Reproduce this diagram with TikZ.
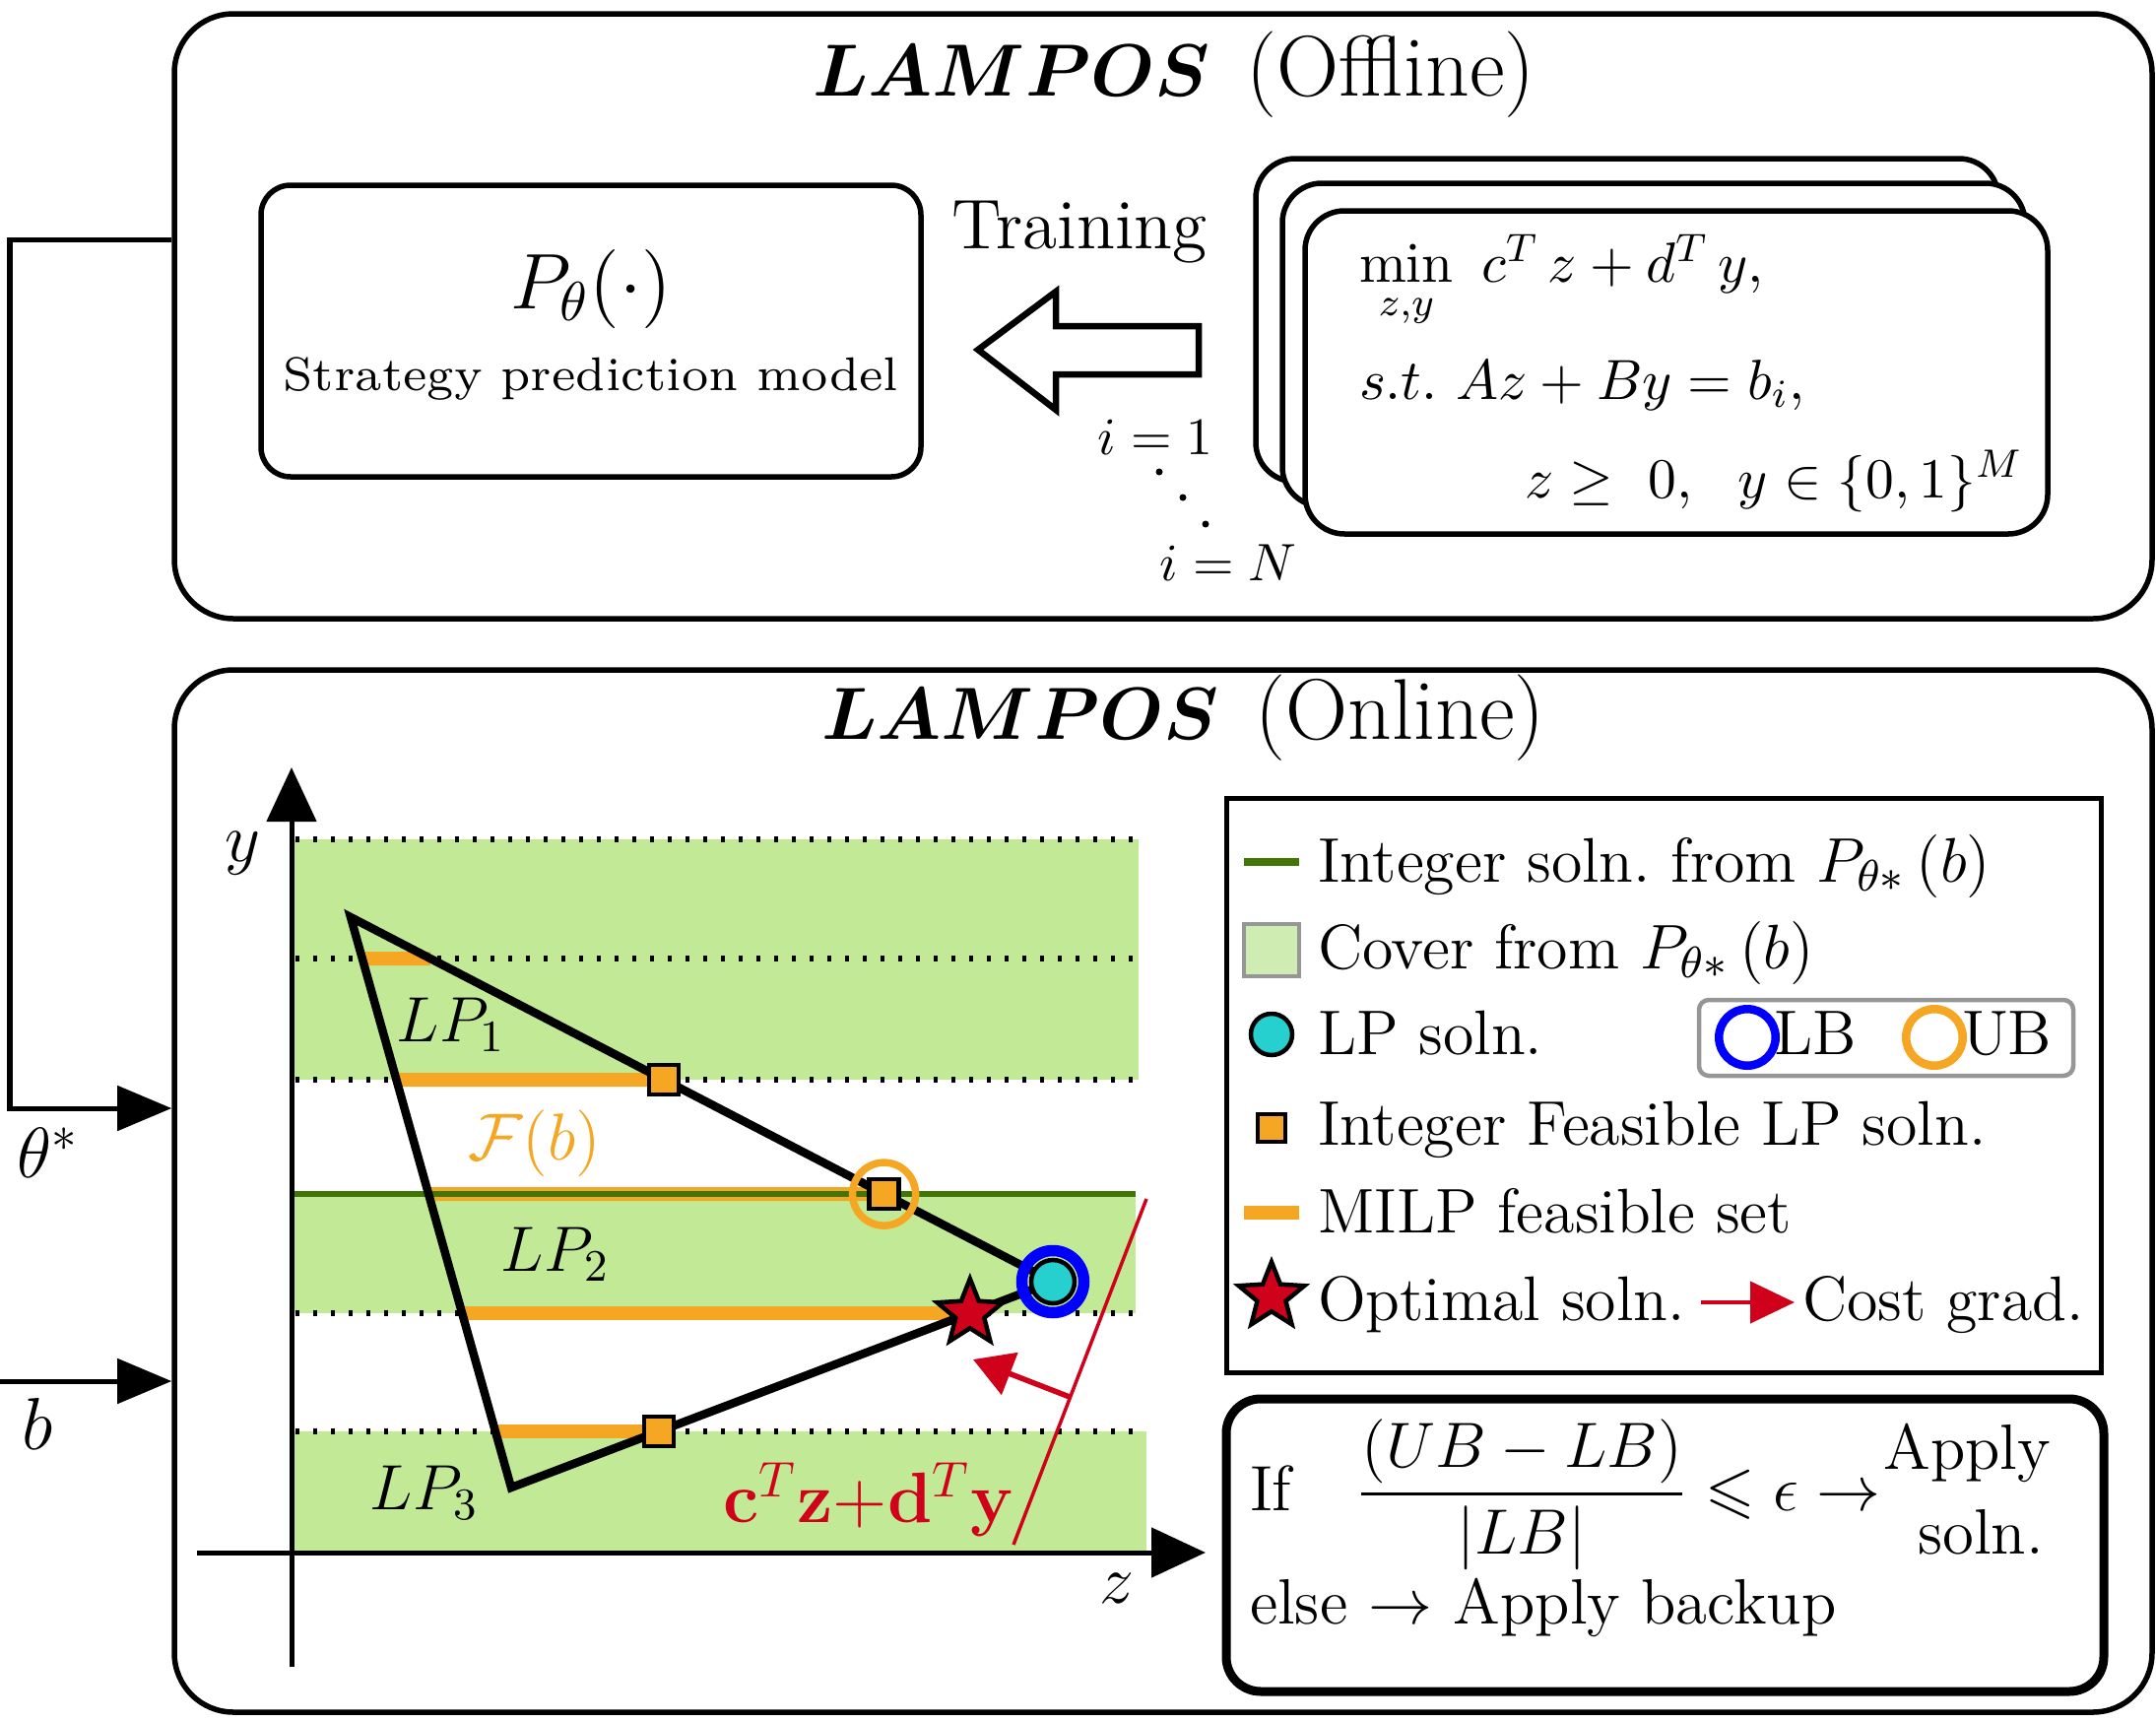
\RequirePackage{fix-cm}
\documentclass[tikz,border=0pt]{standalone}
\usepackage{amsmath,amssymb}
\usepackage{graphicx}
\usetikzlibrary{arrows.meta,shapes.geometric,fit,calc}
\definecolor{bandgreen}{RGB}{194,234,150}
\definecolor{covergreen}{RGB}{207,237,178}
\definecolor{intgreen}{RGB}{65,117,5}
\definecolor{feasorange}{RGB}{245,166,35}
\definecolor{lpcyan}{RGB}{38,208,206}
\definecolor{costred}{RGB}{208,2,27}
\definecolor{lbblue}{RGB}{0,0,255}
\definecolor{framegray}{RGB}{150,150,150}
\newcommand{\fsz}[1]{\fontsize{#1}{#1}\selectfont}
\begin{document}
\begin{tikzpicture}[x=0.2pt,y=-0.2pt,
  panel/.style={draw, line width=1.1pt, rounded corners=12pt, inner sep=0pt},
  stackbox/.style={draw, fill=white, line width=1.1pt, rounded corners=8pt, inner sep=0pt},
  dotline/.style={line width=1.3pt, dash pattern=on 0.8pt off 2.8pt},
  feasbar/.style={feasorange, line width=2.8pt},
  intline/.style={intgreen, line width=1.1pt},
  ifsq/.style={rectangle, draw=black, fill=feasorange, line width=0.9pt, minimum size=6pt, inner sep=0pt},
  optstar/.style={star, star points=5, star point ratio=2.3, draw=black, fill=costred, line width=0.9pt, minimum size=14pt, inner sep=0pt},
  lpdot/.style={circle, draw=black, fill=lpcyan, line width=0.9pt, minimum size=8.8pt, inner sep=0pt},
  ring/.style={circle, draw=#1, line width=1.7pt, minimum size=11.5pt, inner sep=0pt},
  axisarrow/.style={line width=1pt, -{Triangle[length=11pt,width=10pt]}},
  inarrow/.style={line width=1pt, -{Triangle[length=11pt,width=9pt]}},
  lbl/.style={inner sep=0pt},
  lgtext/.style={inner sep=0pt, anchor=base west, font=\fsz{12.8}},
]
\useasboundingbox (0,0) rectangle (2189,1748);

% ---------------- Offline panel ----------------
\node[panel, fit={(177,14)(2185,628)}] (offline) {};
\node[lbl, anchor=base west] (offT) at (824,97) {\fsz{15}$\boldsymbol{LAMPOS}$\hspace{0.5em}{\fsz{17.5}(Offline)}};

\node[panel, rounded corners=6pt, fit={(265,188)(935,484)}] (pbox) {};
\node[lbl] (ptheta) at (600,293) {\fsz{16}$P_\theta(\cdot)$};
\node[lbl] (pdesc) at (600,385) {\resizebox{125pt}{!}{\fsz{7}Strategy prediction model}};

\node[lbl] (train) at (1096,236) {\fsz{14.3}Training};
\draw[line width=1.3pt, line join=miter, fill=white]
  (993,355) -- (1072,296) -- (1072,331) -- (1217,331) -- (1217,380) -- (1072,380) -- (1072,416) -- cycle;

\node[lbl] (i1) at (1173,444) {\fsz{10.7}$i=1$};
\node[circle, fill, inner sep=0pt, minimum size=1.4pt] (dot1) at (1177,479) {};
\node[circle, fill, inner sep=0pt, minimum size=1.4pt] (dot2) at (1201,505) {};
\node[circle, fill, inner sep=0pt, minimum size=1.4pt] (dot3) at (1224,532) {};
\node[lbl] (iN) at (1247,571) {\fsz{10.7}$i=N$};

\node[stackbox, fit={(1275,161)(2029,489)}] (stk3) {};
\node[stackbox, fit={(1302,186)(2056,514)}] (stk2) {};
\node[stackbox, fit={(1325,214)(2079,542)}] (stk1) {};
\node[lbl, anchor=base west] (ob1) at (1379,286) {\fsz{11.5}$\min\limits_{z,y}\ c^T\, z + d^T\, y,$};
\node[lbl, anchor=base west] (ob2) at (1379,405) {\fsz{11.5}$s.t.\ Az + By = b_i,$};
\node[lbl, anchor=base east] (ob3) at (2055,505) {\fsz{11.5}$z \geq\ 0,\ \ y\in\{0,1\}^M$};

% ---------------- Online panel ----------------
\node[panel, fit={(177,680)(2185,1738)}] (online) {};
\node[lbl, anchor=base west] (onT) at (833,750) {\fsz{15}$\boldsymbol{LAMPOS}$\hspace{0.5em}{\fsz{17.5}(Online)}};

% bands
\fill[bandgreen] (296,852) rectangle (1156,1096);
\fill[bandgreen] (296,1212) rectangle (1153,1333);
\fill[bandgreen] (296,1453) rectangle (1164,1576);
\draw[dotline] (300,852) -- (1156,852);
\draw[dotline] (300,973) -- (1156,973);
\draw[dotline] (300,1096) -- (1156,1096);
\draw[dotline] (300,1333) -- (1156,1333);
\draw[dotline] (300,1453) -- (1156,1453);

% triangle
\coordinate (A) at (356,931);
\coordinate (R) at (1069,1301);
\coordinate (Bm) at (519,1510);
\coordinate (hla) at (0,973);  \coordinate (hra) at (2000,973);
\coordinate (hlb) at (0,1096); \coordinate (hrb) at (2000,1096);
\coordinate (hlc) at (0,1212); \coordinate (hrc) at (2000,1212);
\coordinate (hld) at (0,1333); \coordinate (hrd) at (2000,1333);
\coordinate (hle) at (0,1453); \coordinate (hre) at (2000,1453);
\coordinate (La) at (intersection of A--Bm and hla--hra);
\coordinate (Lb) at (intersection of A--Bm and hlb--hrb);
\coordinate (Lc) at (intersection of A--Bm and hlc--hrc);
\coordinate (Ld) at (intersection of A--Bm and hld--hrd);
\coordinate (Le) at (intersection of A--Bm and hle--hre);
\coordinate (Ra) at (intersection of A--R and hla--hra);
\coordinate (Rb) at (intersection of A--R and hlb--hrb);
\coordinate (Rc) at (intersection of A--R and hlc--hrc);
\coordinate (Rd) at (intersection of Bm--R and hld--hrd);
\coordinate (Re) at (intersection of Bm--R and hle--hre);

\draw[feasbar] (La) -- (Ra);
\draw[feasbar] (Lb) -- (Rb);
\draw[feasbar] (Lc) -- (Rc);
\draw[feasbar] (Ld) -- (Rd);
\draw[feasbar] (Le) -- (Re);
\draw[intline] (298,1212) -- (1153,1212);

% axes
\coordinate (yb) at (296,1692); \coordinate (yt) at (296,779);
\coordinate (zl) at (200,1576); \coordinate (zr) at (1224,1576);
\draw[axisarrow] (yb) -- (yt);
\draw[axisarrow] (zl) -- (zr);
\node[lbl] (ylbl) at (246,866) {\fsz{14}$y$};
\node[lbl] (zlbl) at (1134,1612) {\fsz{14}$z$};

% cost line
\coordinate (cl1) at (1029,1568); \coordinate (cl2) at (1164,1217);
\draw[costred, line width=0.7pt] (cl1) -- (cl2);
\coordinate (ga) at (1086,1418); \coordinate (gb) at (988,1380);
\draw[costred, line width=1.1pt, -{Triangle[length=8pt,width=9pt]}] (ga) -- (gb);
\node[lbl, text=costred] (costlbl) at (882,1522) {\fsz{14.5}$\mathbf{c}^T\mathbf{z}{+}\mathbf{d}^T\mathbf{y}$};

\draw[line width=1.7pt, line join=miter] (A) -- (R) -- (Bm) -- cycle;

\node[lbl] (lp1) at (458,1040) {\fsz{13}$LP_1$};
\node[lbl] (lp2) at (564,1273) {\fsz{13}$LP_2$};
\node[lbl] (lp3) at (431,1515) {\fsz{13}$LP_3$};
\node[lbl, text=feasorange] (fb) at (543,1161) {\fsz{13.5}$\mathcal{F}(b)$};

\node[ifsq] (sq1) at (Rb) {};
\node[ifsq] (sq2) at (Rc) {};
\node[ring=feasorange, line width=1.5pt, minimum size=12.8pt] (ubring) at (Rc) {};
\node[ifsq] (sq3) at (Re) {};
\node[optstar] (opt) at (Rd) {};
\node[ring=lbblue, line width=2.3pt, minimum size=12.6pt] (lbring) at (R) {};
\node[lpdot] (lpsol) at (R) {};

% inputs
\coordinate (bend1) at (10,243);
\coordinate (bend2) at (10,1125);
\draw[inarrow] (offline.west |- bend1) -- (bend1) -- (bend2) -- (online.west |- bend2);
\node[lbl] (thetalbl) at (49,1170) {\fsz{14.5}$\theta^*$};
\coordinate (bstart) at (0,1402);
\draw[inarrow] (bstart) -- (online.west |- bstart);
\node[lbl] (blbl) at (38,1445) {\fsz{15}$b$};

% ---------------- Legend ----------------
\node[draw, line width=1pt, inner sep=0pt, fit={(1245,810)(2133,1393)}] (legend) {};
\coordinate (lg1a) at (1263,875); \coordinate (lg1b) at (1319,875);
\draw[intgreen, line width=1.6pt] (lg1a) -- (lg1b);
\node[lgtext] (lgt1) at (1337,895) {Integer soln.\ from $P_{\theta*}\,(b)$};
\node[draw=framegray, fill=covergreen, line width=0.8pt, inner sep=0pt, fit={(1263,938)(1319,991)}] (lgcov) {};
\node[lgtext] (lgt2) at (1337,983) {Cover from $P_{\theta*}\,(b)$};
\node[lpdot, minimum size=8.4pt] (lglp) at (1291,1050) {};
\node[lgtext] (lgt3) at (1337,1070) {LP soln.};
\node[draw=framegray, line width=0.9pt, rounded corners=2pt, inner sep=0pt, fit={(1725,1015)(2105,1092)}] (lbub) {};
\node[ring=lbblue] (lgLB) at (1774,1053) {};
\node[lgtext] (lgLBt) at (1800,1070) {LB};
\node[ring=feasorange] (lgUB) at (1964,1053) {};
\node[lgtext] (lgUBt) at (1991,1070) {UB};
\node[ifsq, minimum size=5.6pt] (lgsq) at (1291,1145) {};
\node[lgtext] (lgt4) at (1337,1162) {Integer Feasible LP soln.};
\coordinate (lg5a) at (1263,1231); \coordinate (lg5b) at (1319,1231);
\draw[feasorange, line width=2.7pt] (lg5a) -- (lg5b);
\node[lgtext] (lgt5) at (1337,1251) {MILP feasible set};
\node[optstar] (lgstar) at (1291,1316) {};
\node[lgtext] (lgt6) at (1337,1340) {Optimal soln.};
\coordinate (lg6a) at (1727,1322); \coordinate (lg6b) at (1822,1322);
\draw[costred, line width=0.9pt, -{Triangle[length=9pt,width=8.4pt]}] (lg6a) -- (lg6b);
\node[lgtext] (lgt7) at (1829,1340) {Cost grad.};

% ---------------- Decision box ----------------
\node[draw, line width=1.8pt, rounded corners=7pt, inner sep=0pt, fit={(1245,1420)(2136,1717)}] (ifbox) {};
\node[lbl, anchor=base west] (ift) at (1268,1533) {\fsz{13}If\quad$\dfrac{(UB-LB)}{|LB|}\leqslant\epsilon\rightarrow$};
\node[lbl, anchor=base east] (apply1) at (2083,1491) {\fsz{13}Apply};
\node[lbl, anchor=base east] (apply2) at (2076,1577) {\fsz{13}soln.};
\node[lbl, anchor=base west] (elset) at (1268,1648) {\fsz{13}else $\rightarrow$ Apply backup};
\end{tikzpicture}
\end{document}
